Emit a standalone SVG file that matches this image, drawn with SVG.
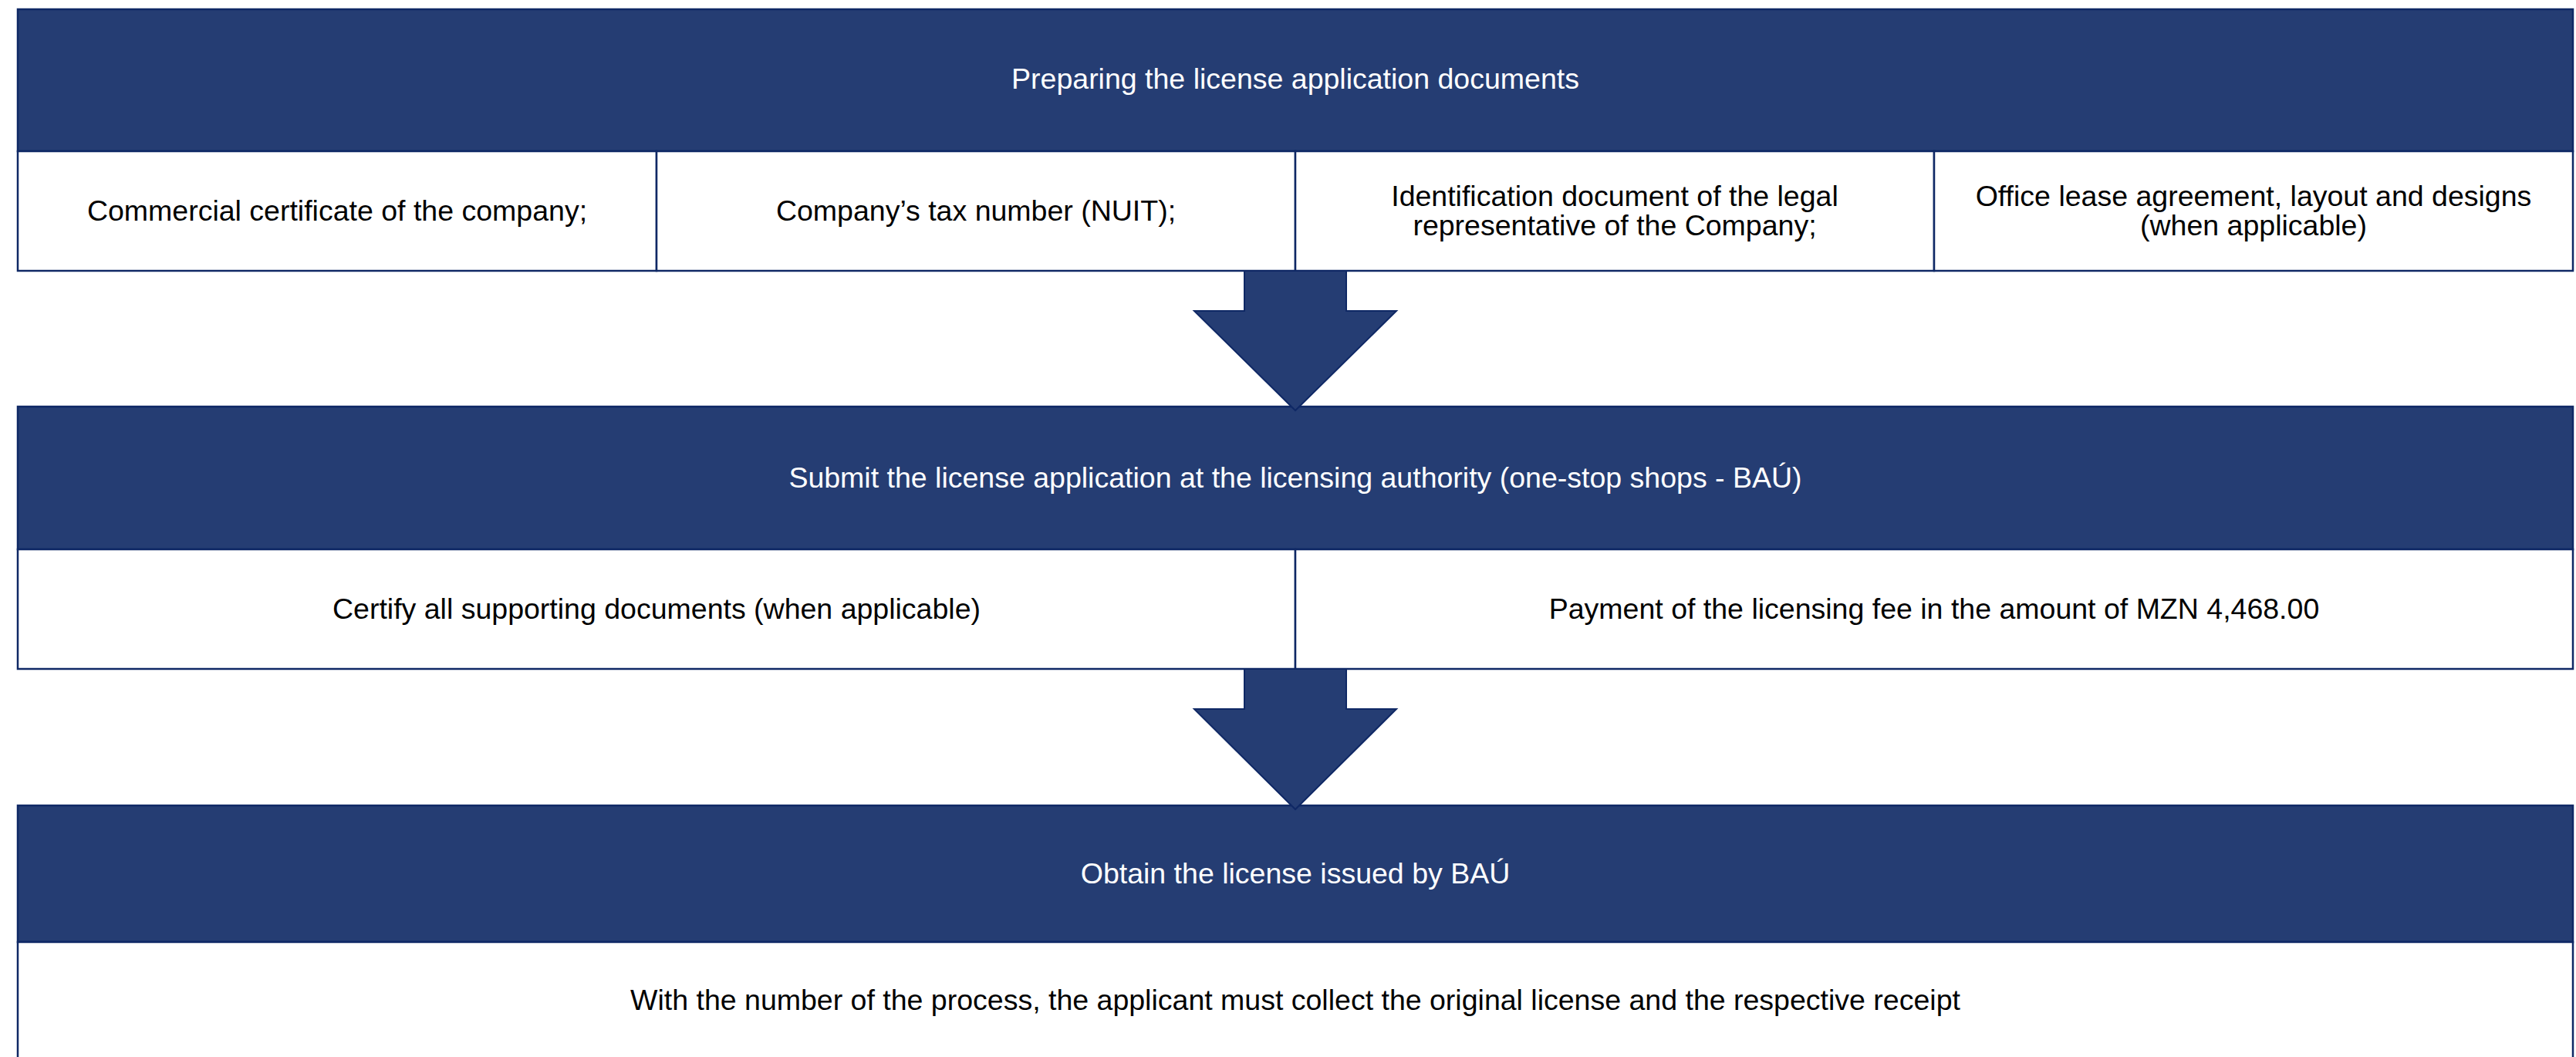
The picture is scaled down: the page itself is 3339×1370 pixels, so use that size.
<svg xmlns="http://www.w3.org/2000/svg" width="3339" height="1370" viewBox="0 0 3339 1370">
  <style>
    .hdr { fill: #253D73; stroke: #0F2865; stroke-width: 2.5; }
    .cell { fill: #FFFFFF; stroke: #0F2865; stroke-width: 2.5; }
    .arrow { fill: #253D73; stroke: #0F2865; stroke-width: 2; stroke-linejoin: miter; }
    text { font-family: "Liberation Sans", Arial, sans-serif; font-size: 37.5px; text-anchor: middle; }
    .ht { fill: #FFFFFF; }
    .ct { fill: #000000; }
  </style>
  <rect width="3339" height="1370" fill="#FFFFFF"/>

  <!-- Step 1: preparing the documents -->
  <g id="step1-header">
    <rect class="hdr" x="23" y="12" width="3312" height="184"/>
    <text class="ht" x="1679" y="115">Preparing the license application documents</text>
  </g>
  <g id="step1-item1">
    <rect class="cell" x="23" y="196" width="828" height="155"/>
    <text class="ct" x="437" y="286">Commercial certificate of the company;</text>
  </g>
  <g id="step1-item2">
    <rect class="cell" x="851" y="196" width="828" height="155"/>
    <text class="ct" x="1265" y="286">Company’s tax number (NUIT);</text>
  </g>
  <g id="step1-item3">
    <rect class="cell" x="1679" y="196" width="828" height="155"/>
    <text class="ct" x="2093" y="267">Identification document of the legal</text>
    <text class="ct" x="2093" y="305">representative of the Company;</text>
  </g>
  <g id="step1-item4">
    <rect class="cell" x="2507" y="196" width="828" height="155"/>
    <text class="ct" x="2921" y="267">Office lease agreement, layout and designs</text>
    <text class="ct" x="2921" y="305">(when applicable)</text>
  </g>

  <!-- Step 2: submitting the application -->
  <g id="step2-header">
    <rect class="hdr" x="23" y="527" width="3312" height="185"/>
    <text class="ht" x="1679" y="632">Submit the license application at the licensing authority (one-stop shops - BAÚ)</text>
  </g>
  <g id="step2-item1">
    <rect class="cell" x="23" y="712" width="1656" height="155"/>
    <text class="ct" x="851" y="802">Certify all supporting documents (when applicable)</text>
  </g>
  <g id="step2-item2">
    <rect class="cell" x="1679" y="712" width="1656" height="155"/>
    <text class="ct" x="2507" y="802">Payment of the licensing fee in the amount of MZN 4,468.00</text>
  </g>

  <!-- Step 3: obtaining the license -->
  <g id="step3-header">
    <rect class="hdr" x="23" y="1044" width="3312" height="177"/>
    <text class="ht" x="1679" y="1145">Obtain the license issued by BAÚ</text>
  </g>
  <g id="step3-item1">
    <rect class="cell" x="23" y="1221" width="3312" height="160"/>
    <text class="ct" x="1679" y="1309">With the number of the process, the applicant must collect the original license and the respective receipt</text>
  </g>

  <!-- Block arrows between the steps -->
  <g id="connectors">
    <polygon class="arrow" points="1613,351 1745,351 1745,403 1810,403 1679,532 1548,403 1613,403"/>
    <polygon class="arrow" points="1613,867 1745,867 1745,919 1810,919 1679,1049 1548,919 1613,919"/>
  </g>
</svg>
